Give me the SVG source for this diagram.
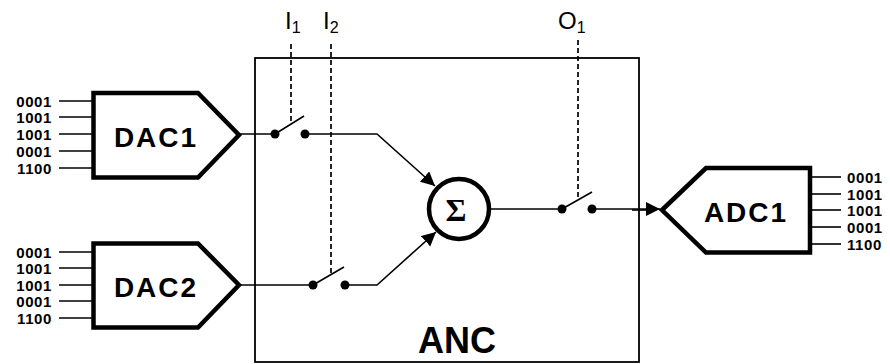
<svg xmlns="http://www.w3.org/2000/svg" width="890" height="364" viewBox="0 0 890 364">
<defs>
<style>
.blk{fill:#fff;stroke:#000;stroke-width:4.5;stroke-linejoin:miter}
.ln{fill:none;stroke:#000;stroke-width:1.6}
.dash{fill:none;stroke:#000;stroke-width:1.7;stroke-dasharray:5 3}
.bits{font-family:"Liberation Sans",Arial,sans-serif;font-weight:bold;font-size:15px;letter-spacing:0.6px;fill:#000}
.big{font-family:"Liberation Sans",Arial,sans-serif;font-weight:bold;font-size:28px;fill:#000;text-anchor:middle;letter-spacing:2px}
.lab{font-family:"Liberation Sans",Arial,sans-serif;font-size:24px;fill:#000}
.dot{fill:#000}
</style>
<marker id="arr" markerUnits="userSpaceOnUse" markerWidth="15" markerHeight="15" refX="14" refY="7" orient="auto">
<path d="M0,0 L14,7 L0,14 z" fill="#000"/>
</marker>
</defs>
<rect width="890" height="364" fill="#fff"/>

<g id="anc">
<rect x="255" y="58" width="384" height="304" fill="none" stroke="#000" stroke-width="1.8"/>
<text x="457" y="353" font-family="Liberation Sans,Arial,sans-serif" font-weight="bold" font-size="36" text-anchor="middle">ANC</text>
</g>

<g id="dac1">
<g class="ln">
<line x1="59" y1="101" x2="94" y2="101"/><line x1="59" y1="117" x2="94" y2="117"/><line x1="59" y1="134" x2="94" y2="134"/><line x1="59" y1="151" x2="94" y2="151"/><line x1="59" y1="168" x2="94" y2="168"/>
</g>
<g class="bits" text-anchor="end">
<text x="52" y="106.5">0001</text><text x="52" y="122.5">1001</text><text x="52" y="139.5">1001</text><text x="52" y="156.5">0001</text><text x="52" y="173.5">1100</text>
</g>
<polygon class="blk" points="93.5,93 198,93 239,135 198,177.5 93.5,177.5"/>
<text class="big" x="156" y="147">DAC1</text>
</g>

<g id="dac2">
<g class="ln">
<line x1="59" y1="252" x2="94" y2="252"/><line x1="59" y1="268" x2="94" y2="268"/><line x1="59" y1="285" x2="94" y2="285"/><line x1="59" y1="301" x2="94" y2="301"/><line x1="59" y1="318" x2="94" y2="318"/>
</g>
<g class="bits" text-anchor="end">
<text x="52" y="257.5">0001</text><text x="52" y="273.5">1001</text><text x="52" y="290.5">1001</text><text x="52" y="306.5">0001</text><text x="52" y="323.5">1100</text>
</g>
<polygon class="blk" points="93.5,243.5 198,243.5 239,285 198,327.5 93.5,327.5"/>
<text class="big" x="156" y="297">DAC2</text>
</g>

<g id="sum">
<circle cx="459" cy="209" r="30" fill="#fff" stroke="#000" stroke-width="4.5"/>
<text x="456" y="221" font-family="Liberation Serif,Times New Roman,serif" font-weight="bold" font-size="32" text-anchor="middle">Σ</text>
</g>

<g id="adc1">
<polygon class="blk" points="662,210 706,168 810,168 810,252.5 706,252.5"/>
<text class="big" x="746" y="222">ADC1</text>
<g class="ln">
<line x1="810" y1="177" x2="841" y2="177"/><line x1="810" y1="194" x2="841" y2="194"/><line x1="810" y1="210" x2="841" y2="210"/><line x1="810" y1="227" x2="841" y2="227"/><line x1="810" y1="244" x2="841" y2="244"/>
</g>
<g class="bits">
<text x="847" y="182.5">0001</text><text x="847" y="199.5">1001</text><text x="847" y="215.5">1001</text><text x="847" y="232.5">0001</text><text x="847" y="249.5">1100</text>
</g>
</g>

<g id="switch-i1">
<circle class="dot" cx="275" cy="134" r="4.5"/>
<circle class="dot" cx="305" cy="134" r="4.5"/>
<line class="ln" x1="275" y1="134" x2="304" y2="116"/>
<line class="dash" x1="291" y1="44" x2="291" y2="122"/>
<text class="lab" x="285" y="29">I<tspan font-size="16" dy="4">1</tspan></text>
</g>

<g id="switch-i2">
<circle class="dot" cx="313" cy="285" r="4.5"/>
<circle class="dot" cx="345" cy="285" r="4.5"/>
<line class="ln" x1="313" y1="285" x2="344" y2="267"/>
<line class="dash" x1="331" y1="44" x2="331" y2="274"/>
<text class="lab" x="323" y="29">I<tspan font-size="16" dy="4">2</tspan></text>
</g>

<g id="switch-o1">
<circle class="dot" cx="562" cy="209" r="4.5"/>
<circle class="dot" cx="592" cy="209" r="4.5"/>
<line class="ln" x1="562" y1="209" x2="592" y2="192"/>
<line class="dash" x1="578" y1="40" x2="578" y2="200"/>
<text class="lab" x="558" y="29">O<tspan font-size="16" dy="4">1</tspan></text>
</g>

<g id="connectors">
<line class="ln" x1="239" y1="134" x2="275" y2="134"/>
<polyline class="ln" points="305,134 377,134 435,186" marker-end="url(#arr)"/>
<line class="ln" x1="239" y1="285" x2="313" y2="285"/>
<polyline class="ln" points="345,285 377,285 436,232" marker-end="url(#arr)"/>
<line class="ln" x1="491" y1="209" x2="562" y2="209"/>
<line class="ln" x1="592" y1="209" x2="660" y2="209" marker-end="url(#arr)"/>
<line class="ln" x1="632" y1="210" x2="650" y2="210"/>
</g>
</svg>
